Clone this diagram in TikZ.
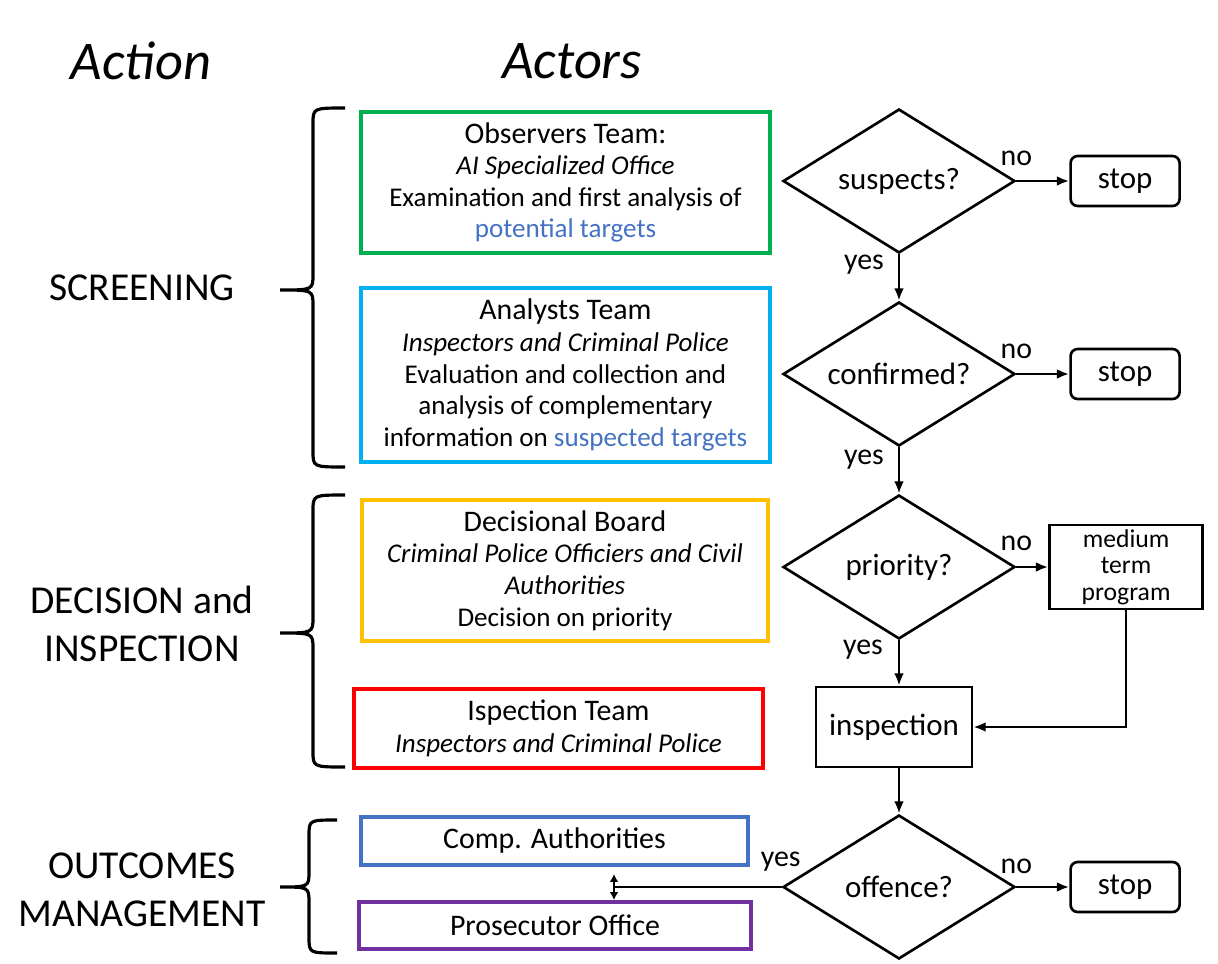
\documentclass[tikz,border=0pt]{standalone}
\usepackage{fontspec}
\setmainfont{Carlito}
\usepackage{tikz}
\usetikzlibrary{shapes,arrows.meta}
\usetikzlibrary{positioning}
\definecolor{obsgreen}{HTML}{00B050}
\definecolor{anacyan}{HTML}{00B0F0}
\definecolor{boardyellow}{HTML}{FFC000}
\definecolor{insred}{HTML}{FF0000}
\definecolor{compblue}{HTML}{4472C4}
\definecolor{prospurple}{HTML}{7030A0}
\definecolor{txtblue}{HTML}{4472C4}
\tikzset{>={Latex[length=7pt,width=5.5pt]}, node distance=1cm}
\tikzstyle{actor} = [draw, rectangle, line width=2.3pt, align=center, inner sep=0pt, font=\fontsize{15.4}{18}\selectfont]
\tikzstyle{decision} = [draw, diamond, aspect=1.6, line width=1.5pt, inner sep=0pt, minimum width=4.64cm, minimum height=2.88cm, font=\fontsize{17.6}{18}\selectfont]
\tikzstyle{stopbox} = [draw, rectangle, rounded corners=4pt, line width=1.5pt, minimum width=2.18cm, minimum height=1cm, text height=13pt, text depth=4pt, font=\fontsize{17.6}{18}\selectfont]
\tikzstyle{block} = [draw, rectangle, line width=1.5pt, align=center, inner sep=0pt]
\tikzstyle{phase} = [align=center, font=\fontsize{22.5}{27.5}\selectfont]
\tikzstyle{head} = [font=\fontsize{31}{31}\selectfont\itshape]
\tikzstyle{lbl} = [anchor=base, inner sep=0pt, font=\fontsize{17}{17}\selectfont]
\tikzstyle{brace} = [line width=1.8pt]
\tikzstyle{flow} = [line width=1.4pt]
\newcommand{\teamname}[1]{{\fontsize{17}{18}\selectfont #1}}

\begin{document}
\begin{tikzpicture}[x=0.02cm, y=-0.02cm]
    \useasboundingbox (0,0) rectangle (1218,964);

    % column titles and phases
    \node [head] (action) at (141,61) {Action};
    \node [head] (actors) at (572,61) {Actors};
    \node [phase] (screening) at (142,288) {SCREENING};
    \node [phase] (decision) at (142,624) {DECISION and\\INSPECTION};
    \node [phase] (outcomes) at (142,890) {OUTCOMES\\MANAGEMENT};

    % braces
    \draw [brace] (345,108) .. controls (313,108) .. (313,124) -- (313,274) .. controls (313,290) .. (280,290) .. controls (313,290) .. (313,306) -- (313,451) .. controls (313,467) .. (345,467);
    \draw [brace] (345,495) .. controls (313,495) .. (313,511) -- (313,617) .. controls (313,633) .. (280,633) .. controls (313,633) .. (313,649) -- (313,751) .. controls (313,767) .. (345,767);
    \draw [brace] (337,820) .. controls (309,820) .. (309,836) -- (309,871) .. controls (309,887) .. (280,887) .. controls (309,887) .. (309,903) -- (309,937) .. controls (309,953) .. (337,953);

    % actors
    \node [actor, draw=obsgreen, minimum width=8.18cm, minimum height=2.82cm] (observers) at (565.5,182.5) {\teamname{Observers Team:}\\ \textit{AI Specialized Office}\\ Examination and first analysis of\\ \textcolor{txtblue}{potential targets}};
    \node [actor, draw=anacyan, minimum width=8.18cm, minimum height=3.48cm] (analysts) at (565.5,375) {\teamname{Analysts Team}\\ \textit{Inspectors and Criminal Police}\\ Evaluation and collection and\\ analysis of complementary\\ information on \textcolor{txtblue}{suspected targets}};
    \node [actor, draw=boardyellow, minimum width=8.12cm, minimum height=2.82cm] (board) at (565,570.5) {\teamname{Decisional Board}\\ \textit{Criminal Police Officiers and Civil}\\ \textit{Authorities}\\ Decision on priority};
    \node [actor, draw=insred, minimum width=8.18cm, minimum height=1.58cm] (ispection) at (558.5,728.5) {\teamname{Ispection Team}\\ \textit{Inspectors and Criminal Police}};
    \node [actor, draw=compblue, minimum width=7.74cm, minimum height=0.96cm] (comp) at (554.5,841) {\teamname{Comp. Authorities}};
    \node [actor, draw=prospurple, minimum width=7.84cm, minimum height=0.94cm] (pros) at (555,925.5) {\teamname{Prosecutor Office}};

    % decisions
    \node [decision] (suspects) at (899,181) {suspects?};
    \node [decision] (confirmed) at (899,374) {confirmed?};
    \node [decision] (priority) at (899,567) {priority?};
    \node [block, minimum width=3.12cm, minimum height=1.6cm, font=\fontsize{17.6}{18}\selectfont] (inspection) at (894,727) {inspection};
    \node [decision] (offence) at (899,887) {offence?};
    \node [stopbox, right=1.06cm of suspects] (stop1) {stop};
    \node [stopbox, right=1.06cm of confirmed] (stop2) {stop};
    \node [block, right=0.64cm of priority, minimum width=3.06cm, minimum height=1.68cm, font=\fontsize{14.6}{15}\selectfont] (medium) {medium\\term\\program};
    \node [stopbox, right=1.06cm of offence] (stop3) {stop};
    \coordinate (split) at (614,887);

    \draw [flow, ->] (suspects.east) -- node [lbl, pos=0, yshift=0.31cm] {no} (stop1);
    \draw [flow, ->] (suspects.south) -- node [lbl, pos=0, xshift=-0.7cm, yshift=-0.3cm] {yes} (confirmed.north);
    \draw [flow, ->] (confirmed.east) -- node [lbl, pos=0, yshift=0.32cm] {no} (stop2);
    \draw [flow, ->] (confirmed.south) -- node [lbl, pos=0, xshift=-0.7cm, yshift=-0.34cm] {yes} (priority.north);
    \draw [flow, ->] (priority.east) -- node [lbl, pos=0, yshift=0.34cm] {no} (medium);
    \draw [flow, ->] (priority.south) -- node [lbl, pos=0, xshift=-0.72cm, yshift=-0.28cm] {yes} (priority.south |- inspection.north);
    \draw [flow, ->] (medium.south) |- (inspection.east);
    \draw [flow, ->] (inspection.south -| offence) -- (offence.north);
    \draw [flow, ->] (offence.east) -- node [lbl, pos=0, yshift=0.28cm] {no} (stop3);
    \draw [flow] (offence.west) -- node [lbl, pos=0, xshift=-0.02cm, yshift=0.42cm] {yes} (split);
    \draw [flow, {Latex[length=4.5pt,width=5pt]}-{Latex[length=4.5pt,width=5pt]}] ([yshift=-0.14cm]split |- comp.south) -- (split |- pros.north);
\end{tikzpicture}
\end{document}
